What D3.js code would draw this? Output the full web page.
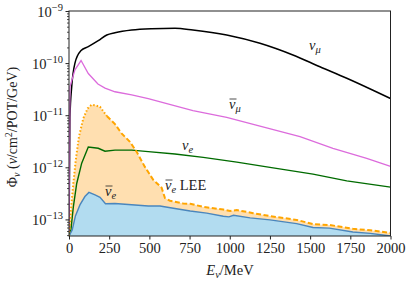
<!DOCTYPE html>
<html><head><meta charset="utf-8">
<script src="https://cdn.jsdelivr.net/npm/d3@7/dist/d3.min.js"></script>
<style>body{margin:0;background:#fff}svg{display:block}text{font-family:"Liberation Serif","Times New Roman",serif;fill:#222}</style>
</head><body><svg id="c" width="407" height="281"></svg>
<script>
// ---- data (E in MeV, flux in nu/cm^2/POT/GeV) ----
const numuE   = [0, 6, 17, 37, 75, 120, 182, 235, 286, 390, 514, 659, 771, 981, 1188, 1393, 1561, 1728, 1891, 2000];
const numuF   = [4.8e-14, 9.3e-12, 3.55e-11, 1.0e-10, 1.74e-10, 2.07e-10, 2.69e-10, 3.47e-10, 3.83e-10, 4.32e-10, 4.57e-10, 4.66e-10, 4.32e-10, 3.47e-10, 2.40e-10, 1.43e-10, 8.5e-11, 5.13e-11, 3.02e-11, 2.09e-11];
const numubE  = [0, 6, 37, 75, 120, 180, 224, 286, 390, 493, 597, 771, 981, 1188, 1437, 1642, 1852, 2000];
const numubF  = [4.8e-14, 3.55e-11, 7.41e-11, 1.12e-10, 6.31e-11, 3.98e-11, 3.31e-11, 2.82e-11, 2.45e-11, 2.09e-11, 1.70e-11, 1.23e-11, 9.12e-12, 6.2e-12, 3.89e-12, 2.32e-12, 1.48e-12, 1.04e-12];
const nueE    = [0, 12, 27, 48, 79, 120, 182, 224, 286, 390, 493, 659, 835, 1044, 1250, 1518, 1728, 2000];
const nueF    = [4.8e-14, 6.3e-14, 1.74e-13, 4.9e-13, 1.2e-12, 2.45e-12, 2.32e-12, 2.04e-12, 2.14e-12, 2.14e-12, 2.0e-12, 1.80e-12, 1.55e-12, 1.26e-12, 1.0e-12, 7.4e-13, 5.5e-13, 4.17e-13];
const nuebE   = [0, 20, 40, 68, 99, 124, 162, 193, 227, 286, 390, 493, 566, 659, 754, 857, 960, 995, 1023, 1127, 1250, 1416, 1518, 1620, 1766, 1875, 2000];
const nuebF   = [4.8e-14, 6.3e-14, 1.17e-13, 1.9e-13, 2.75e-13, 3.3e-13, 2.95e-13, 2.65e-13, 2.0e-13, 2.02e-13, 1.91e-13, 1.81e-13, 1.81e-13, 1.62e-13, 1.45e-13, 1.32e-13, 1.15e-13, 1.12e-13, 1.20e-13, 1.07e-13, 9.8e-14, 8.3e-14, 7.0e-14, 6.8e-14, 5.75e-14, 5.4e-14, 4.8e-14];
const leeE    = [0, 12, 27, 42, 62, 89, 116, 140, 162, 193, 235, 286, 327, 379, 420, 472, 524, 576, 597, 628, 710, 754, 835, 960, 1002, 1044, 1146, 1250, 1416, 1520, 1624, 1766, 1875, 2000];
const leeF    = [4.8e-14, 1.51e-13, 4.9e-13, 1.38e-12, 3.89e-12, 8.7e-12, 1.35e-11, 1.58e-11, 1.55e-11, 1.45e-11, 9.66e-12, 6.76e-12, 4.47e-12, 3.09e-12, 2.0e-12, 1.02e-12, 5.75e-13, 4.07e-13, 2.57e-13, 2.29e-13, 2.02e-13, 2.0e-13, 1.74e-13, 1.55e-13, 1.45e-13, 1.51e-13, 1.32e-13, 1.16e-13, 9.8e-14, 8.1e-14, 7.8e-14, 6.6e-14, 6.2e-14, 5.5e-14];
const leeDottedUntil = 235;
const xTicks  = [0, 250, 500, 750, 1000, 1250, 1500, 1750, 2000];
const yExps   = [-9, -10, -11, -12, -13];
const labels  = [
  {t: "numu",  x: 316, y: 50},
  {t: "numub", x: 236, y: 109},
  {t: "nue",   x: 188, y: 150},
  {t: "nueb",  x: 111, y: 196},
  {t: "lee",   x: 165, y: 190}
];

// ---- scales ----
const svg = d3.select("#c");
const L = 69, R = 390.5, T = 11, B = 236;
const x = d3.scaleLinear().domain([0, 2000]).range([L, R]);
const y = d3.scaleLog().domain([Math.pow(10, -13.318), 1e-9]).range([B, T]);

const zip = (E, F) => E.map((e, i) => [e, F[i]]);
const line = d3.line().x(d => x(d[0])).y(d => y(d[1]));
const area = d3.area().x(d => x(d[0])).y0(B).y1(d => y(d[1]));

svg.append("clipPath").attr("id", "clip").append("rect").attr("x", L).attr("y", T).attr("width", R - L).attr("height", B - T);
const g = svg.append("g").attr("clip-path", "url(#clip)");

const lee = zip(leeE, leeF), nueb = zip(nuebE, nuebF);
g.append("path").datum(lee).attr("d", area).attr("fill", "#ffdfb0");
g.append("path").datum(nueb).attr("d", area).attr("fill", "#b2dcf0");
g.append("path").datum(zip(numuE, numuF)).attr("d", line.curve(d3.curveMonotoneX)).attr("fill", "none").attr("stroke", "#000").attr("stroke-width", 1.5);
line.curve(d3.curveLinear);
g.append("path").datum(zip(numubE, numubF)).attr("d", line).attr("fill", "none").attr("stroke", "#dc6cdc").attr("stroke-width", 1.3);
g.append("path").datum(zip(nueE, nueF)).attr("d", line).attr("fill", "none").attr("stroke", "#006b00").attr("stroke-width", 1.4);
g.append("path").datum(nueb).attr("d", line).attr("fill", "none").attr("stroke", "#4a86bd").attr("stroke-width", 1.4);
const leeA = lee.filter(d => d[0] <= leeDottedUntil), leeB = lee.filter(d => d[0] >= leeDottedUntil);
g.append("path").datum(leeA).attr("d", line).attr("fill", "none").attr("stroke", "#ffa500").attr("stroke-width", 2).attr("stroke-dasharray", "1.5,2");
g.append("path").datum(leeB).attr("d", line).attr("fill", "none").attr("stroke", "#ffa500").attr("stroke-width", 2).attr("stroke-dasharray", "5,2.5");

// ---- axes ----
const xAxis = d3.axisBottom(x).tickValues(xTicks).tickSize(3.5).tickPadding(3).tickFormat(d3.format("d"));
const xg = svg.append("g").attr("transform", `translate(0,${B})`).call(xAxis);
xg.select(".domain").remove();
xg.selectAll("line").attr("stroke", "#222");
xg.selectAll("text").attr("font-size", 14.5).style("font-family", "Liberation Serif");

const minor = [];
for (let e = -14; e <= -10; e++) for (let k = 2; k <= 9; k++) { const v = k * Math.pow(10, e); if (v >= y.domain()[0] && v <= 1e-9) minor.push(v); }
const yAxis = d3.axisLeft(y).tickValues(yExps.map(e => Math.pow(10, e))).tickSize(3.5).tickFormat("");
const yg = svg.append("g").attr("transform", `translate(${L},0)`).call(yAxis);
yg.select(".domain").remove();
yg.selectAll("line").attr("stroke", "#222");
const ymg = svg.append("g").attr("transform", `translate(${L},0)`).call(d3.axisLeft(y).tickValues(minor).tickSize(2).tickFormat(""));
ymg.select(".domain").remove();
ymg.selectAll("line").attr("stroke", "#222").attr("stroke-width", 0.8);

yExps.forEach(e => {
  const t = svg.append("text").attr("x", 63).attr("y", y(Math.pow(10, e)) + 6).attr("text-anchor", "end").attr("font-size", 14.5);
  t.append("tspan").text("10");
  t.append("tspan").attr("dy", -6).attr("font-size", 10.5).text("\u2212" + (-e));
});

svg.append("rect").attr("x", L).attr("y", T).attr("width", R - L).attr("height", B - T).attr("fill", "none").attr("stroke", "#222").attr("stroke-width", 1);

// ---- axis titles ----
const xt = svg.append("text").attr("x", 230).attr("y", 275).attr("text-anchor", "middle").attr("font-size", 14.5);
xt.append("tspan").attr("font-style", "italic").text("E");
xt.append("tspan").attr("font-style", "italic").attr("font-size", 10.5).attr("dy", 3).text("\u03bd");
xt.append("tspan").attr("dy", -3).text("/MeV");

const yt = svg.append("text").attr("transform", "translate(17,127) rotate(-90)").attr("text-anchor", "middle").attr("font-size", 14);
yt.append("tspan").text("\u03a6");
yt.append("tspan").attr("font-style", "italic").attr("font-size", 10).attr("dy", 3).text("\u03bd");
yt.append("tspan").attr("dy", -3).text(" (");
yt.append("tspan").attr("font-style", "italic").text("\u03bd");
yt.append("tspan").text("/cm");
yt.append("tspan").attr("font-size", 10).attr("dy", -5).text("2");
yt.append("tspan").attr("dy", 5).text("/POT/GeV)");

// ---- curve labels ----
function nuLabel(xp, yp, bar, sub, extra) {
  const t = svg.append("text").attr("x", xp).attr("y", yp).attr("font-size", 14.5).attr("text-anchor", "start");
  t.append("tspan").attr("font-style", "italic").text("\u03bd");
  t.append("tspan").attr("font-style", "italic").attr("font-size", 10.5).attr("dy", 3).text(sub);
  if (extra) t.append("tspan").attr("dy", -3).text(extra);
  if (bar) svg.append("line").attr("x1", xp + 0.5).attr("x2", xp + 7.5).attr("y1", yp - 10).attr("y2", yp - 10).attr("stroke", "#222").attr("stroke-width", 0.8);
}
labels.forEach(l => {
  if (l.t === "numu") nuLabel(l.x - 7, l.y, false, "\u03bc");
  if (l.t === "numub") nuLabel(l.x - 7, l.y, true, "\u03bc");
  if (l.t === "nue") nuLabel(l.x - 6, l.y, false, "e");
  if (l.t === "nueb") nuLabel(l.x - 6, l.y, true, "e");
  if (l.t === "lee") nuLabel(l.x, l.y, true, "e", " LEE");
});
</script></body></html>
